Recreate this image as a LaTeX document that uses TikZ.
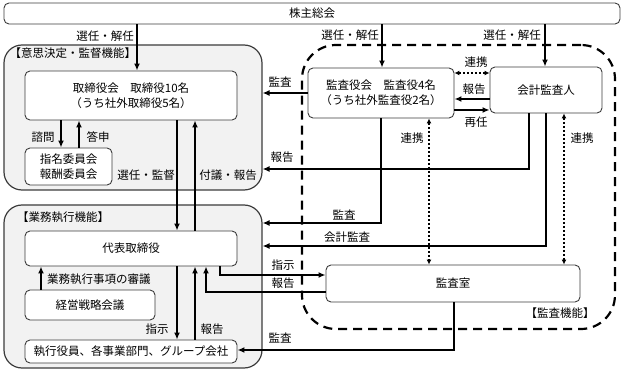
\documentclass[tikz,border=0pt]{standalone}
\usepackage{fontspec}
\setmainfont{Noto Sans CJK JP}
\usepackage{tikz}
\usetikzlibrary{arrows.meta}
\definecolor{cinzafundo}{RGB}{242,242,242}
\definecolor{bordaescura}{RGB}{60,60,60}
\tikzset{
  caixa/.style={rectangle,rounded corners=5pt,draw=bordaescura,fill=white,line width=0.9pt,
    align=center,inner sep=1pt,font=\fontsize{11.5}{15}\selectfont},
  regiao/.style={rectangle,rounded corners=18pt,draw=bordaescura,fill=cinzafundo,line width=1.2pt},
  regiaotracejada/.style={rectangle,rounded corners=34pt,draw=black,line width=2.2pt,
    dash pattern=on 9pt off 6pt},
  rotulo/.style={inner sep=1pt,font=\fontsize{11.5}{14}\selectfont},
  seta/.style={-{Latex[length=7pt,width=6pt]},line width=2pt},
  elo/.style={{Latex[length=5pt,width=5pt]}-{Latex[length=5pt,width=5pt]},line width=2pt,
    dash pattern=on 2pt off 2pt}
}

\begin{document}
\begin{tikzpicture}[x=1pt,y=-1pt]
  \useasboundingbox (0,0) rectangle (624,374);
  % regioes
  \node[regiao,minimum width=258pt,minimum height=145pt] (kantoku) at (133,117.5) {};
  \node[regiao,minimum width=258pt,minimum height=163pt] (gyomu) at (133,286.5) {};
  \node[regiaotracejada,minimum width=313pt,minimum height=284pt] (kansa) at (458.5,187) {};
  \node[rotulo,anchor=west] (rkantoku) at (8.5,53) {【意思決定・監督機能】};
  \node[rotulo,anchor=west] (rgyomu) at (16,217) {【業務執行機能】};
  \node[rotulo] (rkansa) at (560,313) {【監査機能】};

  % orgaos
  \node[caixa,minimum width=616pt,minimum height=21pt] (kabunushi) at (312,13.5) {株主総会};
  \node[caixa,minimum width=212pt,minimum height=49pt] (torishimari) at (131,95.5)
    {取締役会　取締役10名\\（うち社外取締役5名）};
  \node[caixa,minimum width=87pt,minimum height=37pt] (iinkai) at (68.5,166.5) {指名委員会\\報酬委員会};
  \node[caixa,minimum width=212pt,minimum height=35pt] (daihyo) at (131,248.5) {代表取締役};
  \node[caixa,minimum width=130pt,minimum height=30pt] (keiei) at (90,305) {経営戦略会議};
  \node[caixa,minimum width=212pt,minimum height=23pt] (shikko) at (131,351.5)
    {執行役員、各事業部門、グループ会社};
  \node[caixa,minimum width=146pt,minimum height=50pt] (kansayaku) at (381,93)
    {監査役会　監査役4名\\（うち社外監査役2名）};
  \node[caixa,minimum width=112pt,minimum height=46pt] (kaikei) at (546,90) {会計監査人};
  \node[caixa,minimum width=254pt,minimum height=37pt] (kansashitsu) at (453,283.5) {監査室};

  % ligacoes
  \draw[seta] (kabunushi.south -| 137,0) -- (torishimari.north -| 137,0);
  \draw[seta] (kabunushi.south -| 382,0) -- (kansayaku.north -| 382,0);
  \draw[seta] (kabunushi.south -| 545,0) -- (kaikei.north -| 545,0);
  \draw[seta] (torishimari.south -| 61,0) -- (iinkai.north -| 61,0);
  \draw[seta] (iinkai.north -| 79,0) -- (torishimari.south -| 79,0);
  \draw[seta] (torishimari.south -| 177,0) -- (daihyo.north -| 177,0);
  \draw[seta] (daihyo.north -| 195,0) -- (torishimari.south -| 195,0);
  \draw[seta] (kansayaku.west) -- (kantoku.east |- kansayaku.west);
  \draw[elo] (kansayaku.east |- 0,73) -- (kaikei.west |- 0,73);
  \draw[seta] (kaikei.west |- 0,99) -- (kansayaku.east |- 0,99);
  \draw[seta] (kansayaku.east |- 0,110) -- (kaikei.west |- 0,110);
  \draw[seta] (kaikei.south -| 529,0) |- (kantoku.east |- 0,169);
  \draw[seta] (kansayaku.south) |- (gyomu.east |- 0,223);
  \draw[seta] (kaikei.south) |- (gyomu.east |- 0,246);
  \draw[elo] (kansayaku.south -| 429,0) -- (kansashitsu.north -| 429,0);
  \draw[elo] (kaikei.south -| 564,0) -- (kansashitsu.north -| 564,0);
  \draw[seta] (daihyo.south -| 220,0) |- (kansashitsu.west |- 0,275);
  \draw[seta] (kansashitsu.west |- 0,292) -| (daihyo.south -| 206,0);
  \draw[seta] (keiei.north -| 41,0) -- (daihyo.south -| 41,0);
  \draw[seta] (daihyo.south -| 177,0) -- (shikko.north -| 177,0);
  \draw[seta] (shikko.north -| 195,0) -- (daihyo.south -| 195,0);
  \draw[seta] (kansashitsu.south -| 454,0) |- (shikko.east |- 0,350);

  % rotulos
  \node[rotulo] (r1) at (105,36) {選任・解任};
  \node[rotulo] (r2) at (350,35) {選任・解任};
  \node[rotulo] (r3) at (512,35) {選任・解任};
  \node[rotulo] (r4) at (43,137) {諮問};
  \node[rotulo] (r5) at (98,137) {答申};
  \node[rotulo] (r6) at (146,175) {選任・監督};
  \node[rotulo] (r7) at (228,175) {付議・報告};
  \node[rotulo] (r8) at (280,82) {監査};
  \node[rotulo] (r9) at (282,157) {報告};
  \node[rotulo] (r10) at (476,62) {連携};
  \node[rotulo] (r11) at (474,89) {報告};
  \node[rotulo] (r12) at (476,122) {再任};
  \node[rotulo] (r13) at (412,138) {連携};
  \node[rotulo] (r14) at (582,138) {連携};
  \node[rotulo] (r15) at (344,215) {監査};
  \node[rotulo] (r16) at (347,237) {会計監査};
  \node[rotulo] (r17) at (283,265) {指示};
  \node[rotulo] (r18) at (283,283) {報告};
  \node[rotulo,anchor=west] (r19) at (46,279) {業務執行事項の審議};
  \node[rotulo] (r20) at (157,329) {指示};
  \node[rotulo] (r21) at (212,329) {報告};
  \node[rotulo] (r22) at (280,338) {監査};
\end{tikzpicture}
\end{document}
